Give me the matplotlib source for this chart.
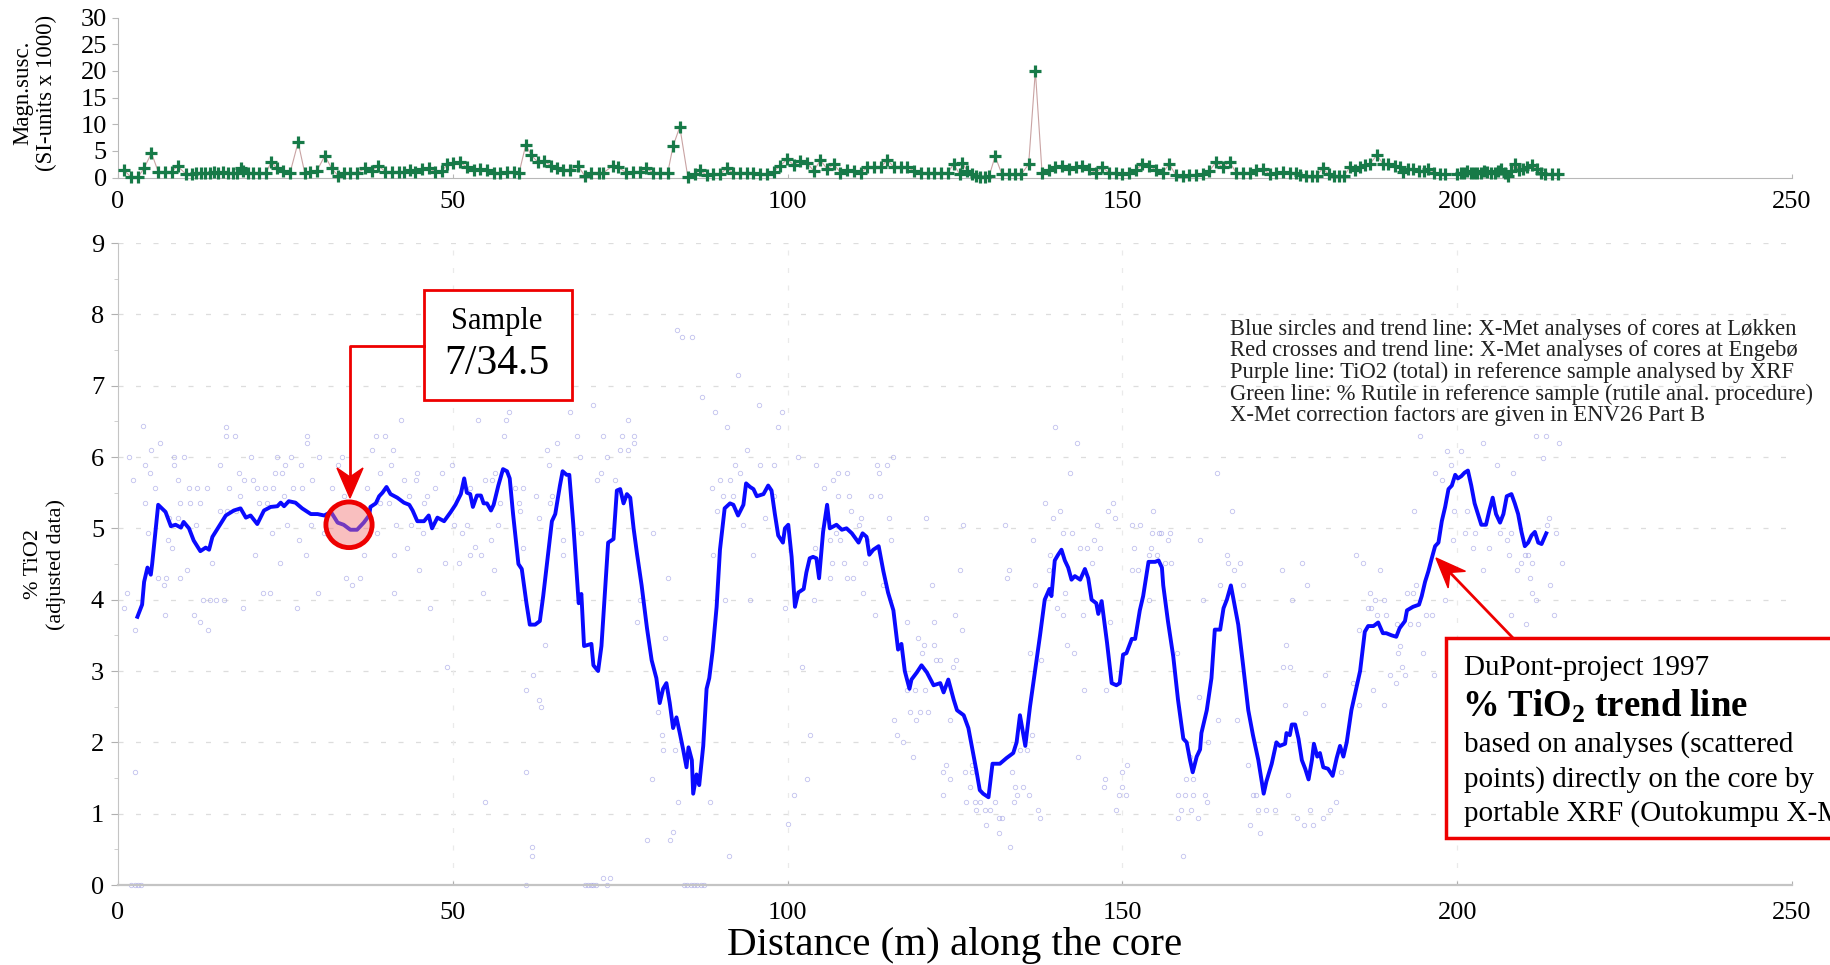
import numpy as np
import matplotlib
matplotlib.use("Agg")
import matplotlib.pyplot as plt
from matplotlib.patches import Ellipse, Rectangle, Polygon

plt.rcParams['font.family'] = ['Liberation Serif', 'DejaVu Serif']
plt.rcParams['mathtext.fontset'] = 'custom'
plt.rcParams['mathtext.rm'] = 'Liberation Serif'
plt.rcParams['mathtext.bf'] = 'Liberation Serif:bold'

# --- magnetic susceptibility (top panel) ---
ms_x = [0.9, 1.9, 3.0, 3.9, 5.0, 6.0, 7.0, 8.0, 8.9, 10.2, 11.0, 11.7, 12.4, 13.0, 13.7, 14.4, 15.0, 15.7,
        16.4, 17.1, 17.7, 18.4, 18.7, 19.4, 20.1, 21.1, 22.1, 22.9, 23.7, 24.7, 25.7, 26.9, 27.9, 28.7,
        29.7, 30.9, 31.9, 32.9, 33.7, 34.7, 35.7, 36.9, 37.9, 38.9, 39.9, 40.9, 41.9, 42.7, 43.6, 44.4,
        45.4, 46.4, 47.4, 48.4, 49.2, 50.1, 51.1, 52.1, 53.1, 54.1, 55.1, 56.1, 57.1, 58.1, 59.1, 59.9,
        60.9, 61.7, 62.7, 63.6, 64.7, 65.6, 66.5, 67.5, 68.7, 69.7, 70.7, 71.9, 72.5, 73.9, 74.7, 75.9,
        76.9, 77.9, 78.9, 79.9, 80.9, 82.1, 82.9, 83.9, 85.1, 86.1, 86.9, 87.9, 88.9, 89.9, 90.9, 91.9,
        92.9, 93.9, 94.9, 95.9, 96.9, 97.9, 98.9, 99.9, 100.9, 101.9, 102.9, 103.9, 104.9, 105.9, 106.9,
        107.9, 108.9, 109.9, 110.9, 111.9, 112.9, 113.9, 114.9, 115.9, 116.9, 117.9, 118.9, 119.9, 120.9,
        121.9, 122.9, 123.9, 124.8, 125.7, 126.1, 126.8, 127.5, 128.1, 128.8, 129.5, 130.1, 131.0, 132.0,
        133.0, 133.9, 134.9, 136.0, 137.0, 138.0, 139.0, 140.0, 141.0, 142.0, 143.0, 144.0, 145.0, 146.0,
        147.0, 148.0, 149.0, 150.0, 151.0, 152.0, 153.0, 154.0, 155.0, 156.0, 157.0, 158.0, 159.0, 160.0,
        161.0, 162.0, 163.0, 164.0, 165.0, 166.0, 167.0, 168.0, 169.0, 170.0, 171.0, 172.0, 173.0, 174.0,
        175.0, 176.0, 176.5, 177.4, 178.3, 179.0, 179.9, 180.8, 181.6, 182.3, 183.1, 184.0, 184.7, 185.5,
        186.2, 187.0, 188.0, 188.9, 189.7, 190.7, 191.4, 191.9, 192.7, 193.4, 194.3, 195.1, 195.7, 196.6,
        197.5, 198.2, 200.0, 200.5, 201.0, 201.5, 202.0, 202.5, 203.0, 203.5, 204.0, 204.5, 205.1, 205.6,
        206.1, 206.6, 207.1, 207.6, 208.1, 208.7, 209.2, 209.8, 210.4, 211.1, 211.9, 212.5, 213.1, 214.1,
        215.0]
ms_y = [1.4, 0.1, 0.1, 1.75, 4.6, 1.1, 1.1, 1.1, 2.1, 0.6, 0.7, 0.8, 0.8, 0.9, 0.9, 1.0, 0.9, 1.0,
        0.9, 0.8, 0.9, 1.8, 1.3, 0.9, 0.8, 0.8, 0.8, 3.0, 1.7, 1.25, 0.9, 6.6, 0.8, 1.1,
        1.25, 4.1, 1.7, 0.3, 0.9, 0.9, 0.9, 1.7, 1.25, 2.2, 1.1, 1.1, 1.1, 1.1, 1.4, 1.1,
        1.6, 1.7, 1.1, 1.25, 2.5, 2.7, 2.9, 1.9, 1.45, 1.6, 1.45, 0.9, 0.9, 1.1, 1.1, 0.9,
        6.1, 4.2, 2.9, 3.1, 2.2, 1.7, 1.45, 1.45, 2.2, 0.3, 0.8, 0.9, 0.9, 2.2, 1.9, 0.9,
        1.1, 1.1, 1.7, 0.9, 0.9, 0.9, 5.9, 9.5, 0.1, 0.6, 1.4, 0.4, 0.6, 0.6, 1.7, 0.8,
        0.8, 0.8, 0.9, 0.6, 0.6, 1.1, 2.2, 3.4, 2.4, 3.1, 2.7, 1.25, 3.25, 1.6, 2.5,
        0.9, 1.4, 1.25, 0.8, 1.9, 1.9, 1.9, 3.3, 1.9, 1.9, 1.9, 1.25, 0.9, 0.8,
        0.8, 0.9, 0.9, 2.5, 0.6, 2.8, 1.25, 0.6, 0.3, 0.1, 0.1, 0.3, 4.0, 0.6,
        0.6, 0.6, 0.6, 2.5, 20.0, 0.9, 1.4, 1.9, 2.2, 1.6, 1.9, 2.2, 1.6, 0.9,
        1.9, 0.9, 0.8, 0.6, 0.9, 1.4, 2.5, 2.2, 1.4, 0.9, 2.5, 0.4, 0.3, 0.4,
        0.4, 0.6, 1.25, 2.9, 1.9, 2.9, 0.9, 0.8, 0.9, 1.4, 1.6, 0.6, 0.9, 1.1,
        0.9, 0.8, 0.45, 0.3, 0.3, 0.3, 1.7, 0.6, 0.3, 0.3, 0.3, 2.0, 1.4, 1.9,
        2.4, 2.6, 4.2, 2.6, 2.6, 2.2, 1.9, 1.1, 1.6, 1.6, 1.25, 1.25, 1.6, 0.9,
        0.75, 0.75, 0.6, 0.9, 0.9, 1.25, 0.9, 0.9, 0.9, 0.9, 1.25, 1.1, 0.9, 0.9,
        1.25, 1.6, 0.9, 0.3, 1.25, 2.6, 1.4, 1.6, 1.9, 2.4, 1.6, 0.9, 0.75, 0.75,
        0.75]

# --- TiO2 trend line (main panel) ---
trend_x = [2.9, 3.6, 3.9, 4.4, 4.9, 5.1, 6.0, 7.1, 7.9, 8.6, 9.4, 9.8, 10.6, 11.3, 12.3, 13.1, 13.6, 14.1,
           15.1, 16.1, 17.3, 18.3, 19.1, 19.8, 20.8, 21.8, 22.8, 23.8, 24.3, 24.8, 25.5, 26.5, 27.5, 28.8,
           29.8, 30.8, 31.8, 32.8, 33.7, 34.7, 35.7, 36.7, 37.5, 37.7, 38.5, 39.0, 39.5, 40.1, 40.7, 41.7,
           42.7, 43.5, 44.0, 44.7, 45.7, 46.4, 46.9, 47.7, 48.7, 49.7, 50.4, 51.2, 51.7, 52.1, 52.6, 53.0,
           53.6, 54.2, 54.6, 55.1, 55.7, 56.1, 56.8, 57.5, 58.1, 58.5, 59.0, 59.8, 60.3, 61.0, 61.5, 62.3,
           63.0, 63.5, 64.3, 64.8, 65.3, 66.0, 66.4, 67.0, 67.4, 68.0, 68.8, 69.2, 69.6, 70.7, 71.0, 71.7,
           72.2, 73.2, 74.0, 74.5, 75.0, 75.5, 76.0, 76.5, 77.0, 77.5, 78.2, 79.0, 79.7, 80.4, 80.9, 81.4,
           81.9, 82.4, 82.9, 83.4, 83.9, 84.4, 84.9, 85.2, 85.7, 85.9, 86.4, 86.8, 87.4, 87.9, 88.3, 88.8,
           89.4, 89.9, 90.6, 91.4, 91.9, 92.6, 93.4, 93.8, 94.4, 94.9, 95.4, 96.4, 97.1, 97.6, 98.1, 98.6,
           99.3, 99.6, 100.1, 100.6, 101.1, 101.6, 102.4, 102.8, 103.3, 103.8, 104.3, 104.7, 105.3, 105.9,
           106.3, 107.3, 108.1, 108.8, 109.6, 110.6, 111.2, 111.8, 112.2, 112.8, 113.6, 114.3, 115.0, 115.8,
           116.5, 117.0, 117.5, 118.2, 118.5, 119.3, 120.0, 120.8, 121.8, 122.8, 123.3, 124.0, 124.8, 125.3,
           126.3, 127.0, 127.7, 128.2, 128.7, 129.2, 130.0, 130.6, 131.7, 132.7, 133.7, 134.2, 134.7, 135.5,
           136.2, 137.7, 138.4, 139.1, 139.4, 139.9, 140.4, 140.9, 141.4, 141.9, 142.4, 142.9, 143.7, 144.4,
           144.9, 145.4, 146.1, 146.4, 146.9, 147.7, 148.4, 149.1, 149.6, 150.1, 150.6, 151.4, 151.9, 152.6,
           153.1, 153.9, 154.9, 155.4, 155.9, 156.1, 156.8, 157.6, 158.3, 159.1, 159.6, 160.1, 160.5, 161.1,
           161.6, 161.8, 162.6, 163.3, 163.8, 164.6, 165.1, 165.6, 166.2, 166.6, 167.3, 168.0, 168.8, 169.5,
           170.3, 171.1, 171.5, 172.3, 173.0, 173.5, 174.3, 174.5, 175.0, 175.3, 175.8, 176.3, 176.8, 177.3,
           177.8, 178.3, 178.6, 179.1, 179.5, 180.0, 180.7, 181.4, 182.0, 182.5, 183.0, 183.5, 184.2, 184.9,
           185.5, 186.2, 186.7, 187.5, 188.2, 188.9, 189.4, 190.2, 190.9, 191.4, 192.2, 192.5, 193.4, 194.3,
           194.7, 195.2, 195.7, 196.2, 196.7, 197.2, 197.7, 198.2, 198.7, 199.2, 199.7, 200.1, 200.6, 201.1,
           201.6, 202.1, 202.6, 203.1, 203.6, 204.3, 204.8, 205.3, 205.8, 206.4, 206.9, 207.4, 208.1, 208.6,
           209.1, 209.6, 210.1, 210.6, 211.1, 211.6, 212.1, 212.6, 213.3]
trend_y = [3.76, 3.93, 4.25, 4.45, 4.35, 4.5, 5.33, 5.23, 5.03, 5.05, 5.01, 5.09, 5.0, 4.83, 4.68, 4.73, 4.7, 4.88,
           5.03, 5.18, 5.25, 5.28, 5.15, 5.18, 5.06, 5.25, 5.3, 5.31, 5.36, 5.31, 5.38, 5.36, 5.28, 5.2,
           5.2, 5.18, 5.23, 5.08, 5.05, 4.98, 4.98, 5.08, 5.18, 5.3, 5.35, 5.45, 5.5, 5.58, 5.48, 5.43,
           5.36, 5.33, 5.25, 5.1, 5.1, 5.18, 5.0, 5.15, 5.1, 5.23, 5.33, 5.48, 5.7, 5.5, 5.48, 5.3,
           5.46, 5.46, 5.35, 5.35, 5.25, 5.33, 5.6, 5.83, 5.8, 5.7, 5.2, 4.5, 4.43, 3.95, 3.65, 3.65,
           3.7, 4.05, 4.7, 5.1, 5.2, 5.6, 5.8, 5.75, 5.75, 5.05, 3.95, 4.08, 3.35, 3.38, 3.08, 3.0,
           3.35, 4.8, 4.85, 5.53, 5.55, 5.35, 5.48, 5.43, 5.0, 4.65, 4.2, 3.6, 3.15, 2.9, 2.55, 2.75,
           2.83, 2.55, 2.2, 2.35, 2.13, 1.9, 1.65, 1.93, 1.75, 1.28, 1.55, 1.4, 1.95, 2.75, 2.9, 3.28,
           3.9, 4.7, 5.28, 5.35, 5.33, 5.18, 5.33, 5.63, 5.58, 5.55, 5.45, 5.48, 5.6, 5.53, 5.2, 4.9,
           4.8, 5.0, 5.05, 4.6, 3.9, 4.1, 4.15, 4.38, 4.58, 4.6, 4.58, 4.3, 4.95, 5.33,
           5.0, 5.05, 4.98, 5.0, 4.93, 4.8, 4.93, 4.88, 4.63, 4.7, 4.75, 4.4, 4.1, 3.85,
           3.3, 3.38, 3.0, 2.75, 2.88, 2.98, 3.08, 2.98, 2.8, 2.83, 2.7, 2.88, 2.6, 2.45,
           2.38, 2.2, 1.85, 1.6, 1.33, 1.28, 1.23, 1.7, 1.7, 1.78, 1.85, 2.0, 2.38, 1.95,
           2.5, 3.5, 4.0, 4.15, 4.05, 4.55, 4.63, 4.7, 4.55, 4.45, 4.28, 4.33, 4.28, 4.43,
           4.3, 4.0, 3.95, 3.8, 3.98, 3.4, 2.83, 2.8, 2.83, 3.23, 3.25, 3.45, 3.45, 3.85,
           4.05, 4.53, 4.53, 4.55, 4.45, 4.2, 3.7, 3.2, 2.6, 2.05, 2.0, 1.75, 1.58, 1.8,
           1.9, 2.13, 2.45, 2.9, 3.58, 3.58, 3.88, 4.0, 4.2, 4.0, 3.65, 3.1, 2.45, 2.1,
           1.75, 1.28, 1.45, 1.7, 2.0, 1.95, 1.98, 2.13, 2.1, 2.25, 2.25, 2.05, 1.75, 1.63,
           1.48, 1.75, 1.98, 1.8, 1.85, 1.65, 1.63, 1.53, 1.78, 1.95, 1.8, 2.0, 2.45, 2.75,
           3.0, 3.55, 3.63, 3.63, 3.68, 3.53, 3.53, 3.5, 3.48, 3.6, 3.7, 3.85, 3.9, 3.93,
           4.05, 4.25, 4.4, 4.58, 4.75, 4.8, 5.1, 5.3, 5.55, 5.6, 5.75, 5.7, 5.73, 5.78,
           5.81, 5.6, 5.35, 5.2, 5.05, 5.05, 5.25, 5.43, 5.2, 5.08, 5.2, 5.45, 5.48, 5.35,
           5.2, 4.95, 4.75, 4.8, 4.9, 4.95, 4.8, 4.78, 4.93]

# --- scattered X-Met analyses (faint circles) ---
pts_0_55 = [(0.9, 3.89), (2.5, 3.58), (2.6, 1.58), (1.3, 4.09), (3.7, 6.43), (4.9, 6.1), (6.3, 6.2), (1.6, 6.0),
            (4.1, 5.89), (4.8, 5.78), (2.2, 5.68), (5.5, 5.57), (4.0, 5.35), (4.5, 4.94), (7.5, 4.83), (8.0, 4.73),
            (6.0, 4.31), (7.1, 4.31), (9.3, 4.31), (6.9, 4.2), (10.3, 4.42), (7.0, 3.78), (11.4, 3.78), (12.2, 3.68),
            (13.5, 3.58), (12.7, 3.99), (13.7, 3.99), (14.7, 3.99), (15.8, 3.99), (18.6, 3.89), (21.6, 4.09),
            (22.7, 4.09), (26.8, 3.89), (29.8, 4.09), (34.0, 4.31), (36.2, 4.31), (35.0, 4.2), (41.2, 4.09),
            (46.6, 3.89), (49.2, 3.05), (16.2, 6.42), (16.1, 6.3), (17.4, 6.3), (28.3, 6.3), (28.3, 6.2),
            (38.5, 6.3), (39.8, 6.3), (42.2, 6.52), (38.0, 6.1), (41.0, 6.1), (8.4, 6.0), (9.8, 6.0), (19.8, 6.0),
            (23.8, 6.0), (25.8, 6.0), (30.0, 6.0), (33.5, 6.0), (40.7, 5.89), (49.9, 5.89), (8.4, 5.89),
            (15.3, 5.89), (25.0, 5.89), (27.3, 5.89), (32.8, 5.89), (18.1, 5.78), (23.5, 5.78), (24.5, 5.78),
            (39.1, 5.78), (44.7, 5.78), (48.4, 5.78), (9.0, 5.68), (18.8, 5.68), (20.2, 5.68), (29.0, 5.68),
            (42.7, 5.68), (44.5, 5.68), (10.6, 5.57), (11.8, 5.57), (13.3, 5.57), (16.6, 5.57), (20.7, 5.57),
            (21.9, 5.57), (23.2, 5.57), (26.2, 5.57), (27.5, 5.57), (32.0, 5.57), (37.2, 5.57), (43.5, 5.46),
            (46.2, 5.46), (47.4, 5.57), (52.6, 5.57), (24.8, 5.46), (33.8, 5.46), (18.2, 5.46), (9.3, 5.35),
            (10.8, 5.35), (12.3, 5.35), (15.3, 5.25), (16.3, 5.25), (17.6, 5.25), (21.1, 5.35), (22.3, 5.35),
            (39.2, 5.35), (40.5, 5.35), (45.7, 5.35), (7.6, 5.14), (8.9, 5.14), (11.6, 5.04), (23.0, 4.94),
            (25.3, 5.04), (28.8, 5.04), (30.8, 4.94), (41.5, 5.04), (43.7, 5.04), (50.2, 5.04), (51.4, 4.94),
            (27.0, 4.83), (38.7, 4.93), (45.5, 4.94), (43.2, 4.73), (20.4, 4.63), (14.0, 4.51), (24.2, 4.51),
            (28.1, 4.63), (36.7, 4.63), (41.2, 4.63), (48.9, 4.51), (50.9, 4.51), (45.0, 4.41),
            (2.0, 0.0), (2.5, 0.0), (3.0, 0.0), (3.5, 0.0)]
pts_55_105 = [(83.5, 7.78), (84.2, 7.68), (85.7, 7.68), (67.0, 7.88), (92.6, 7.15), (55.5, 6.84), (87.2, 6.84),
              (71.0, 6.73), (95.7, 6.73), (58.4, 6.63), (67.5, 6.63), (89.2, 6.63), (99.1, 6.63), (53.8, 6.52),
              (58.0, 6.52), (76.2, 6.52), (90.9, 6.42), (98.6, 6.42), (57.6, 6.3), (68.5, 6.3), (72.5, 6.3),
              (75.2, 6.3), (77.0, 6.3), (65.6, 6.2), (77.0, 6.2), (64.0, 6.1), (75.0, 6.1), (76.2, 6.1),
              (93.9, 6.1), (69.0, 6.0), (73.0, 6.0), (101.6, 6.0), (64.3, 5.89), (92.1, 5.89), (95.9, 5.89),
              (97.9, 5.89), (56.3, 5.78), (72.2, 5.78), (92.9, 5.78), (54.8, 5.68), (55.8, 5.68), (71.5, 5.68),
              (74.2, 5.68), (89.9, 5.68), (91.4, 5.68), (59.3, 5.57), (60.5, 5.57), (88.7, 5.57), (62.5, 5.46),
              (64.8, 5.46), (90.4, 5.46), (91.9, 5.46), (97.9, 5.46), (57.1, 5.35), (59.9, 5.35), (64.5, 5.35),
              (60.0, 5.25), (89.4, 5.25), (62.8, 5.14), (96.6, 5.14), (52.1, 5.04), (56.8, 5.04), (93.4, 5.04),
              (79.9, 4.94), (55.7, 4.84), (66.5, 4.84), (69.2, 4.94), (53.3, 4.74), (60.5, 4.73), (52.6, 4.63),
              (54.2, 4.63), (66.5, 4.63), (88.9, 4.63), (94.9, 4.63), (104.1, 4.73), (56.1, 4.41), (82.2, 4.31),
              (54.5, 4.09), (78.0, 3.99), (90.7, 3.99), (94.4, 3.99), (99.6, 3.89), (77.5, 3.68), (81.7, 3.46),
              (63.8, 3.36), (62.0, 2.95), (61.0, 2.74), (62.9, 2.6), (63.1, 2.5), (102.1, 3.05), (80.7, 2.42),
              (81.2, 2.1), (81.4, 1.89), (83.2, 1.89), (103.3, 2.1), (61.0, 1.58), (79.7, 1.48), (102.9, 1.48),
              (54.8, 1.16), (83.7, 1.16), (88.4, 1.16), (100.9, 1.26), (100.1, 0.85), (82.9, 0.74), (82.4, 0.63),
              (79.0, 0.63), (61.8, 0.53), (61.8, 0.41), (91.2, 0.41), (61.0, 0.0), (69.8, 0.0), (70.2, 0.0),
              (70.6, 0.0), (71.0, 0.0), (71.4, 0.0), (73.0, 0.0), (72.5, 0.1), (73.5, 0.1), (84.5, 0.0),
              (85.0, 0.0), (85.5, 0.0), (86.0, 0.0), (86.5, 0.0), (87.0, 0.0), (87.5, 0.0)]
pts_105_155 = [(140.0, 6.42), (143.2, 6.2), (142.2, 5.78), (115.8, 6.0), (104.2, 5.89), (113.3, 5.89), (114.9, 5.89),
               (107.6, 5.78), (108.9, 5.78), (113.6, 5.78), (106.8, 5.68), (105.4, 5.57), (107.6, 5.46),
               (109.2, 5.46), (112.5, 5.46), (113.8, 5.46), (138.4, 5.35), (148.6, 5.35), (109.4, 5.25),
               (140.7, 5.25), (147.9, 5.25), (154.6, 5.25), (111.0, 5.14), (115.2, 5.14), (120.7, 5.14),
               (139.7, 5.14), (148.9, 5.14), (126.2, 5.04), (132.5, 5.04), (146.2, 5.04), (151.5, 5.04),
               (152.6, 5.04), (107.2, 4.94), (110.7, 5.04), (141.1, 4.94), (142.4, 4.94), (154.4, 4.94),
               (155.5, 4.94), (106.3, 4.83), (107.9, 4.83), (111.8, 4.83), (115.4, 4.83), (136.6, 4.83),
               (145.7, 4.83), (143.7, 4.73), (144.7, 4.73), (146.7, 4.73), (151.7, 4.73), (154.2, 4.73),
               (153.9, 4.63), (155.1, 4.63), (139.2, 4.63), (106.6, 4.51), (108.4, 4.51), (111.6, 4.51),
               (145.4, 4.51), (139.0, 4.41), (151.4, 4.41), (152.4, 4.41), (125.8, 4.41), (133.0, 4.41),
               (132.7, 4.31), (109.8, 4.31), (106.4, 4.31), (108.8, 4.31), (114.3, 4.2), (121.5, 4.2),
               (137.0, 4.2), (141.4, 4.09), (111.3, 4.09), (103.9, 3.99), (153.9, 3.99), (140.2, 3.89),
               (113.0, 3.78), (125.0, 3.78), (141.2, 3.78), (144.1, 3.78), (117.9, 3.68), (121.8, 3.68),
               (126.0, 3.58), (148.2, 3.68), (119.4, 3.46), (120.3, 3.36), (121.9, 3.36), (141.7, 3.36),
               (120.0, 3.25), (136.2, 3.25), (142.7, 3.25), (122.2, 3.15), (125.2, 3.15), (122.7, 3.15),
               (137.9, 3.15), (124.7, 3.05), (117.8, 2.74), (119.0, 2.74), (120.5, 2.74), (144.3, 2.74),
               (147.6, 2.74), (118.3, 2.42), (119.8, 2.42), (121.0, 2.42), (115.9, 2.31), (119.2, 2.31),
               (124.3, 2.31), (116.4, 2.1), (117.2, 2.0), (136.5, 2.1), (118.7, 1.79), (134.7, 1.89),
               (135.7, 1.89), (143.4, 1.79), (123.7, 1.68), (127.6, 1.68), (150.7, 1.68), (123.2, 1.58),
               (126.5, 1.58), (127.6, 1.58), (133.5, 1.58), (150.0, 1.58), (124.3, 1.48), (147.4, 1.48),
               (127.2, 1.38), (134.0, 1.38), (135.2, 1.38), (147.3, 1.38), (149.9, 1.38), (123.2, 1.26),
               (134.2, 1.26), (136.0, 1.26), (149.5, 1.26), (150.5, 1.26), (126.7, 1.16), (128.0, 1.16),
               (128.8, 1.16), (131.0, 1.16), (133.8, 1.16), (128.2, 1.05), (129.5, 1.05), (130.2, 1.05),
               (137.4, 1.05), (149.1, 1.05), (131.5, 0.94), (132.0, 0.94), (137.7, 0.94), (129.7, 0.84),
               (131.5, 0.73), (133.2, 0.53)]
pts_155_216 = [(194.5, 6.3), (211.8, 6.3), (213.2, 6.3), (203.8, 6.19), (215.2, 6.19), (198.5, 6.09), (200.5, 6.09),
               (212.8, 5.99), (199.0, 5.89), (206.0, 5.89), (164.1, 5.78), (196.7, 5.78), (208.3, 5.78),
               (197.8, 5.68), (166.3, 5.25), (193.5, 5.25), (199.5, 5.25), (201.4, 5.25), (213.7, 5.14),
               (213.4, 5.04), (214.8, 4.94), (155.8, 4.94), (157.1, 4.94), (201.1, 4.94), (202.6, 4.94),
               (206.4, 4.94), (208.0, 4.94), (156.8, 4.84), (161.6, 4.84), (199.3, 4.84), (207.4, 4.84),
               (202.3, 4.73), (204.8, 4.73), (184.9, 4.63), (207.8, 4.63), (210.1, 4.63), (210.6, 4.63),
               (165.6, 4.63), (156.3, 4.51), (157.3, 4.51), (165.8, 4.51), (167.5, 4.51), (176.8, 4.51),
               (185.9, 4.51), (209.6, 4.51), (211.1, 4.51), (166.6, 4.41), (188.4, 4.41), (173.8, 4.41),
               (203.9, 4.41), (208.9, 4.41), (215.6, 4.51), (164.6, 4.2), (168.0, 4.2), (177.5, 4.2),
               (193.8, 4.2), (210.8, 4.31), (187.0, 4.09), (192.5, 4.09), (193.4, 4.09), (213.9, 4.2),
               (211.2, 4.09), (175.3, 3.99), (162.0, 3.99), (187.7, 3.99), (189.0, 3.99), (198.2, 3.99),
               (211.7, 3.99), (186.7, 3.89), (187.2, 3.89), (195.4, 3.78), (196.2, 3.78), (188.0, 3.78),
               (189.4, 3.78), (208.1, 3.78), (214.4, 3.78), (191.0, 3.66), (192.9, 3.66), (194.2, 3.66),
               (210.3, 3.66), (185.4, 3.58), (191.4, 3.35), (158.1, 3.25), (174.5, 3.36), (191.1, 3.25),
               (194.9, 3.25), (174.0, 3.05), (175.1, 3.05), (191.7, 3.05), (190.0, 2.94), (192.2, 2.94),
               (196.5, 2.94), (180.3, 2.94), (184.4, 2.83), (190.8, 2.83), (161.5, 2.63), (187.5, 2.73),
               (174.3, 2.53), (180.0, 2.53), (189.0, 2.53), (185.4, 2.53), (164.3, 2.31), (167.1, 2.31),
               (177.3, 2.41), (162.8, 2.0), (160.1, 1.79), (168.8, 1.68), (182.7, 1.58), (159.5, 1.48),
               (160.6, 1.48), (169.5, 1.26), (170.0, 1.26), (158.3, 1.26), (159.3, 1.26), (160.6, 1.26),
               (162.3, 1.26), (174.8, 1.26), (181.9, 1.16), (162.6, 1.16), (158.7, 1.05), (160.3, 1.05),
               (170.3, 1.05), (171.5, 1.05), (172.8, 1.05), (178.0, 1.05), (181.0, 1.05), (158.3, 0.94),
               (161.3, 0.94), (176.1, 0.94), (180.0, 0.94), (169.0, 0.84), (177.1, 0.84), (178.5, 0.84),
               (170.5, 0.73), (159.0, 0.41)]

sample_depth = 34.5
sample_tio2 = 5.05

legend_lines = ["Blue sircles and trend line: X-Met analyses of cores at Løkken",
                "Red crosses and trend line: X-Met analyses of cores at Engebø",
                "Purple line: TiO2 (total) in reference sample analysed by XRF",
                "Green line: % Rutile in reference sample (rutile anal. procedure)",
                "X-Met correction factors are given in ENV26 Part B"]

W, H = 1831, 965
fig = plt.figure(figsize=(W / 100, H / 100), dpi=100)

# top panel
ax_ms = fig.add_axes([118 / W, 1 - 177.5 / H, 1674 / W, 160 / H])
ax_ms.plot(ms_x, ms_y, color='#c9a3a3', lw=0.8, zorder=2)
ax_ms.plot(ms_x, ms_y, ls='none', marker='+', ms=8, mew=2.3, color='#177a48', zorder=3, clip_on=False)
ax_ms.set_xlim(0, 250)
ax_ms.set_ylim(0, 30)
ax_ms.set_yticks(range(0, 31, 5))
ax_ms.set_xticks(range(0, 251, 50))
for s in ['top', 'right']:
    ax_ms.spines[s].set_visible(False)
for s in ['left', 'bottom']:
    ax_ms.spines[s].set_color('#b8b8b8')
ax_ms.tick_params(axis='y', labelsize=19, length=4, color='#b8b8b8', pad=4)
ax_ms.tick_params(axis='x', labelsize=19, length=3, direction='in', color='#b8b8b8', pad=10)

# main panel
ax = fig.add_axes([118 / W, 1 - 885 / H, 1674 / W, 642 / H])
for yv in range(1, 10):
    ax.axhline(yv, color='#dddddd', lw=0.9, ls=(0, (4, 10)), zorder=0)
for xv in [50, 100, 150, 200]:
    ax.axvline(xv, color='#eaeaea', lw=0.9, ls=(0, (4, 10)), zorder=0)

scat = np.array(pts_0_55 + pts_55_105 + pts_105_155 + pts_155_216)
ax.plot(scat[:, 0], scat[:, 1], ls='none', marker='o', ms=3.2, mfc='none',
        mec='#8f8fe0', mew=0.6, alpha=0.55, zorder=2, clip_on=False)
ax.plot(trend_x, trend_y, color='#0a0aff', lw=2.8, zorder=4, solid_joinstyle='round')

ax.add_patch(Ellipse((sample_depth, sample_tio2), 6.9, 0.64, facecolor=(0.95, 0.45, 0.45, 0.45),
                     edgecolor='none', zorder=5))
ax.add_patch(Ellipse((sample_depth, sample_tio2), 6.9, 0.64, facecolor='none',
                     edgecolor='#ee0000', lw=3.5, zorder=6))

ax.set_xlim(0, 250)
ax.set_ylim(0, 9)
ax.set_yticks(range(0, 10))
ax.set_yticks(np.arange(0.5, 9, 1.0), minor=True)
ax.set_xticks(range(0, 251, 50))
for s in ['top', 'right']:
    ax.spines[s].set_visible(False)
ax.spines['left'].set_color('#c4c4c4')
ax.spines['bottom'].set_color('#c4c4c4')
ax.spines['bottom'].set_linewidth(1.6)
ax.tick_params(axis='y', labelsize=19, length=5, color='#b0b0b0', pad=5)
ax.tick_params(axis='y', which='minor', length=3, color='#c8c8c8')
ax.tick_params(axis='x', labelsize=19, length=3, direction='in', color='#b0b0b0', pad=12)

# axis titles
fig.text(45 / W, 1 - 564 / H, "% TiO2\n(adjusted data)", rotation=90, ha='center', va='center',
         fontsize=16, linespacing=1.2)
fig.text(35 / W, 1 - 93 / H, "Magn.susc.\n(SI-units x 1000)", rotation=90, ha='center', va='center',
         fontsize=16.5, linespacing=1.15)
fig.text(955 / W, 1 - 946 / H, "Distance (m) along the core", ha='center', va='center', fontsize=29.5)

# overlay in pixel coordinates for annotations
ov = fig.add_axes([0, 0, 1, 1], zorder=10)
ov.set_xlim(0, W)
ov.set_ylim(H, 0)
ov.axis('off')
ov.patch.set_alpha(0)

for i, line in enumerate(legend_lines):
    ov.text(1230, 329 + i * 21.7, line, fontsize=16.3, color='#222222', ha='left', va='center')

# sample box and connector
ov.add_patch(Rectangle((424, 290), 148, 110, facecolor='white', edgecolor='#ee0000', lw=2))
ov.text(497, 321, "Sample", fontsize=22, ha='center', va='center')
ov.text(497, 364, "7/34.5", fontsize=30, ha='center', va='center')
ov.plot([424, 350, 350], [346, 346, 480], color='#ee0000', lw=2)
ov.add_patch(Polygon([(350, 498), (337, 468), (350, 477), (363, 468)], closed=True,
                     facecolor='#ee0000', edgecolor='#ee0000'))

# DuPont box and arrow (box runs past the right edge, as in the original)
ov.add_patch(Rectangle((1446, 638), 420, 200, facecolor='white', edgecolor='#ee0000', lw=2.5))
ov.text(1464, 668, "DuPont-project 1997", fontsize=21, ha='left', va='center')
ov.text(1462, 706, r"% TiO$_\mathbf{2}$ trend line", fontsize=26.5, fontweight='bold', ha='left', va='center')
ov.text(1464, 745, "based on analyses (scattered", fontsize=21, ha='left', va='center')
ov.text(1464, 780, "points) directly on the core by", fontsize=21, ha='left', va='center')
ov.text(1464, 814, "portable XRF (Outokumpu X-Met)", fontsize=21, ha='left', va='center')

tail = np.array([1513.0, 638.0])
tip = np.array([1436.0, 558.0])
d = (tip - tail) / np.linalg.norm(tip - tail)
n = np.array([-d[1], d[0]])
base = tip - d * 30
notch = tip - d * 20
ov.plot([tail[0], notch[0]], [tail[1], notch[1]], color='#ee0000', lw=2)
ov.add_patch(Polygon([tip, base + n * 12, notch, base - n * 12], closed=True,
                     facecolor='#ee0000', edgecolor='#ee0000'))

fig.savefig("out.png", dpi=100)
